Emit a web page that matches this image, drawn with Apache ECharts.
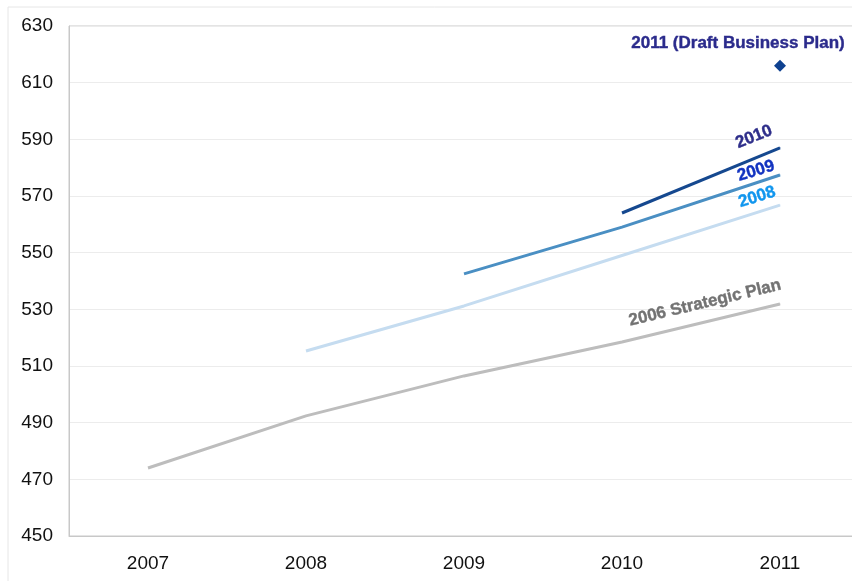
<!DOCTYPE html>
<html>
<head>
<meta charset="utf-8">
<script src="https://cdn.jsdelivr.net/npm/echarts@6/dist/echarts.min.js"></script>
<style>
  html, body { margin: 0; padding: 0; background: #fff; overflow: hidden; }
  /* The plot frame runs slightly past the right edge of the window */
  #chart { width: 860px; height: 581px; }
</style>
</head>
<body>
<div id="chart"></div>
<script>
// Plan years on the horizontal axis
const years = ['2007', '2008', '2009', '2010', '2011'];

// Y-axis range
const yMin = 450, yMax = 630, yStep = 20;

// Projections by plan vintage (null where a plan has no figure)
const strategic2006 = [474, 492.4, 506.5, 518.5, 531.9];
const plan2008 = [null, 515.3, 531.2, 549.0, 566.8];
const plan2009 = [null, null, 542.5, 559.0, 577.4];
const plan2010 = [null, null, null, 564.0, 587.0];
const draft2011 = [null, null, null, null, 616];

// Series names as they appear next to each line
const names = ['2006 Strategic Plan', '2008', '2009', '2010', '2011 (Draft Business Plan)'];

const FONT = '"Liberation Sans", Arial, sans-serif';

// Label offsets are applied in the label's rotated frame; convert a
// screen-space shift (dx, dy) into that frame.
function rotatedOffset(dx, dy, deg) {
  const t = deg * Math.PI / 180;
  const c = Math.cos(t), s = Math.sin(t);
  return [dx * c - dy * s, dx * s + dy * c];
}

// Attach a rotated end label to the last point of a series
function withEndLabel(values, text, color, rotate, dx, dy) {
  const last = values.length - 1;
  return values.map((v, i) => {
    if (i !== last) return v;
    return {
      value: v,
      symbol: 'circle',
      symbolSize: 1,
      label: {
        show: true,
        formatter: text,
        position: 'inside',
        rotate: rotate,
        offset: rotatedOffset(dx, dy, rotate),
        align: 'center',
        verticalAlign: 'middle',
        color: color,
        textBorderColor: color,
        textBorderWidth: 0.4,
        fontFamily: FONT,
        fontWeight: 'bold',
        fontSize: 17
      }
    };
  });
}

function lineSeries(name, data, color) {
  return {
    name: name,
    type: 'line',
    data: data,
    symbol: 'none',
    connectNulls: false,
    smooth: false,
    lineStyle: { color: color, width: 3 },
    itemStyle: { color: color, opacity: 1 },
    emphasis: { disabled: true },
    z: 3
  };
}

const chart = echarts.init(document.getElementById('chart'), null, { renderer: 'canvas' });

chart.setOption({
  animation: false,
  backgroundColor: '#ffffff',
  graphic: [{
    type: 'rect',
    shape: { x: 8, y: 7, width: 900, height: 700 },
    style: { fill: 'none', stroke: '#e6e6e6', lineWidth: 1 },
    silent: true,
    z: -10
  }],
  grid: {
    left: 69,
    top: 26,
    right: 1,
    bottom: 45,
    show: true,
    borderColor: '#c8c8c8',
    borderWidth: 1,
    containLabel: false
  },
  xAxis: {
    type: 'category',
    data: years,
    boundaryGap: true,
    axisLine: { show: true, lineStyle: { color: '#c8c8c8', width: 1 } },
    axisTick: { show: false },
    splitLine: { show: false },
    axisLabel: {
      color: '#111',
      fontFamily: FONT,
      fontSize: 19,
      margin: 18
    }
  },
  yAxis: {
    type: 'value',
    min: yMin,
    max: yMax,
    interval: yStep,
    axisLine: { show: true, lineStyle: { color: '#c8c8c8', width: 1 } },
    axisTick: { show: false },
    splitLine: { show: true, lineStyle: { color: '#ececec', width: 1 } },
    axisLabel: {
      color: '#111',
      fontFamily: FONT,
      fontSize: 19,
      margin: 16
    }
  },
  series: [
    lineSeries(names[0], withEndLabel(strategic2006, names[0], '#737373', 13.5, -75, -1), '#bdbdbd'),
    lineSeries(names[1], withEndLabel(plan2008, names[1], '#1196ee', 17.5, -23, -8), '#c5dcf0'),
    lineSeries(names[2], withEndLabel(plan2009, names[2], '#1233c0', 17, -24, -4), '#4a8fc3'),
    lineSeries(names[3], withEndLabel(plan2010, names[3], '#2e2e8a', 22, -26, -11), '#15488f'),
    {
      name: names[4],
      type: 'scatter',
      data: draft2011.map((v, i) => i === draft2011.length - 1 ? {
        value: v,
        label: {
          show: true,
          formatter: names[4],
          position: 'inside',
          offset: [-42, -22],
          align: 'center',
          verticalAlign: 'middle',
          color: '#2b2b8c',
          textBorderColor: '#2b2b8c',
          textBorderWidth: 0.4,
          fontFamily: FONT,
          fontWeight: 'bold',
          fontSize: 17
        }
      } : v),
      symbol: 'diamond',
      symbolSize: 12,
      itemStyle: { color: '#0f4190', opacity: 1 },
      emphasis: { disabled: true },
      z: 4
    }
  ]
});
</script>
</body>
</html>
